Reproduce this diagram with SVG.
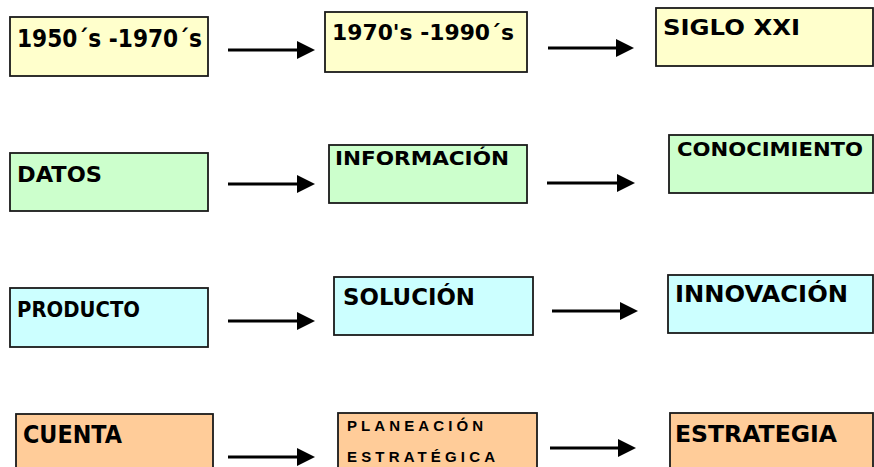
<svg xmlns="http://www.w3.org/2000/svg" width="874" height="467" viewBox="0 0 874 467">
  <defs>
    <marker id="head" markerUnits="userSpaceOnUse" markerWidth="18" markerHeight="18" refX="0" refY="9" orient="auto">
      <path d="M0,0 L18,9 L0,18 Z" fill="#000"/>
    </marker>
    <style>
      .box { stroke: #1a1a1a; stroke-width: 1.8; }
      .yel { fill: #FFFFCC; }
      .grn { fill: #CCFFCC; }
      .cyn { fill: #CCFFFF; }
      .org { fill: #FFCC99; }
      .lbl { font-family: "Comic Sans MS", "DejaVu Sans", sans-serif; font-weight: bold; fill: #000; }
      .spaced { font-family: "Liberation Sans", Arial, sans-serif; font-weight: bold; fill: #000; font-size: 15px; }
      .link { stroke: #000; stroke-width: 3; fill: none; marker-end: url(#head); }
    </style>
  </defs>

  <rect width="874" height="467" fill="#fff"/>

  <!-- row 1: periods -->
  <g id="n-1950">
    <rect class="box yel" x="10" y="17" width="198" height="59"/>
    <text class="lbl" x="17" y="47" font-size="24" textLength="185" lengthAdjust="spacingAndGlyphs">1950´s -1970´s</text>
  </g>
  <g id="n-1970">
    <rect class="box yel" x="325" y="12" width="202" height="60"/>
    <text class="lbl" x="332" y="40" font-size="22" textLength="182" lengthAdjust="spacingAndGlyphs">1970's -1990´s</text>
  </g>
  <g id="n-siglo">
    <rect class="box yel" x="656" y="8" width="217" height="58"/>
    <text class="lbl" x="663" y="35" font-size="22" textLength="137" lengthAdjust="spacingAndGlyphs">SIGLO XXI</text>
  </g>

  <!-- row 2: data to knowledge -->
  <g id="n-datos">
    <rect class="box grn" x="10" y="153" width="198" height="58"/>
    <text class="lbl" x="17" y="182" font-size="22" textLength="85" lengthAdjust="spacingAndGlyphs">DATOS</text>
  </g>
  <g id="n-informacion">
    <rect class="box grn" x="329" y="145" width="198" height="58"/>
    <text class="lbl" x="335" y="165" font-size="19" textLength="174" lengthAdjust="spacingAndGlyphs">INFORMACIÓN</text>
  </g>
  <g id="n-conocimiento">
    <rect class="box grn" x="669" y="135" width="204" height="58"/>
    <text class="lbl" x="677" y="156" font-size="19" textLength="186" lengthAdjust="spacingAndGlyphs">CONOCIMIENTO</text>
  </g>

  <!-- row 3: offer -->
  <g id="n-producto">
    <rect class="box cyn" x="10" y="288" width="198" height="59"/>
    <text class="lbl" x="17" y="317" font-size="22" textLength="123" lengthAdjust="spacingAndGlyphs">PRODUCTO</text>
  </g>
  <g id="n-solucion">
    <rect class="box cyn" x="334" y="277" width="199" height="58"/>
    <text class="lbl" x="343" y="305" font-size="23" textLength="132" lengthAdjust="spacingAndGlyphs">SOLUCIÓN</text>
  </g>
  <g id="n-innovacion">
    <rect class="box cyn" x="668" y="275" width="205" height="58"/>
    <text class="lbl" x="675" y="302" font-size="23" textLength="173" lengthAdjust="spacingAndGlyphs">INNOVACIÓN</text>
  </g>

  <!-- row 4: planning -->
  <g id="n-cuenta">
    <rect class="box org" x="16" y="414" width="197" height="60"/>
    <text class="lbl" x="23" y="443" font-size="24" textLength="99" lengthAdjust="spacingAndGlyphs">CUENTA</text>
  </g>
  <g id="n-planeacion">
    <rect class="box org" x="338" y="413" width="199" height="60"/>
    <text class="spaced" x="347" y="431" textLength="136">PLANEACIÓN</text>
    <text class="spaced" x="347" y="462" textLength="148">ESTRATÉGICA</text>
  </g>
  <g id="n-estrategia">
    <rect class="box org" x="670" y="413" width="203" height="60"/>
    <text class="lbl" x="675" y="442" font-size="23" textLength="162" lengthAdjust="spacingAndGlyphs">ESTRATEGIA</text>
  </g>

  <!-- connectors -->
  <g id="connectors">
    <line class="link" x1="228" y1="50" x2="297" y2="50"/>
    <line class="link" x1="548" y1="48" x2="616" y2="48"/>
    <line class="link" x1="228" y1="184" x2="297" y2="184"/>
    <line class="link" x1="547" y1="183" x2="617" y2="183"/>
    <line class="link" x1="228" y1="321" x2="297" y2="321"/>
    <line class="link" x1="552" y1="311" x2="620" y2="311"/>
    <line class="link" x1="228" y1="457" x2="297" y2="457"/>
    <line class="link" x1="550" y1="448" x2="618" y2="448"/>
  </g>
</svg>
